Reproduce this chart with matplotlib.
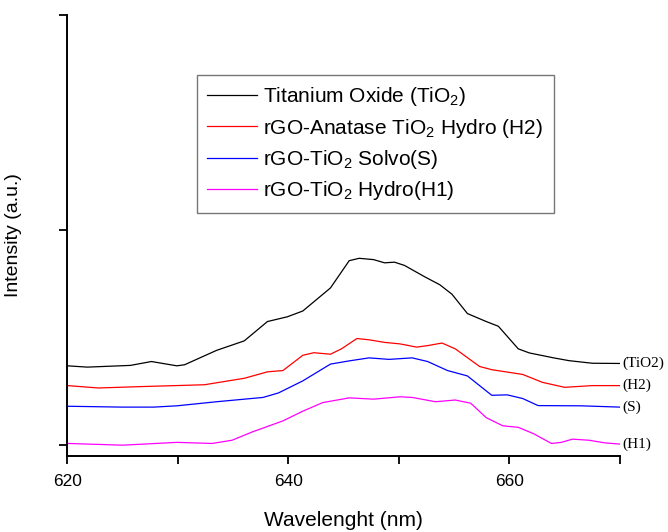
import numpy as np
import matplotlib
matplotlib.use('Agg')
import matplotlib.pyplot as plt

plt.rcParams['font.family'] = ['Liberation Sans', 'DejaVu Sans']
plt.rcParams['mathtext.default'] = 'regular'

# wavelength (nm) / intensity (a.u., stacked)
wl_tio2 = [620, 621.8, 625.7, 627.6, 629.9, 630.6, 633.5, 636, 638.1, 639.9, 641.3, 643.8,
           645.5, 646.4, 647.7, 648.7, 649.6, 650.5, 652.3, 653.7, 654.8, 656.2, 657.9,
           659, 660.8, 661.8, 664, 665.4, 667.5, 670]
int_tio2 = [0.368, 0.362, 0.370, 0.388, 0.368, 0.373, 0.440, 0.484, 0.574, 0.596, 0.623, 0.730,
            0.857, 0.868, 0.862, 0.847, 0.850, 0.835, 0.783, 0.745, 0.701, 0.611, 0.574,
            0.552, 0.447, 0.428, 0.405, 0.392, 0.380, 0.379]

wl_h2 = [620, 622.8, 626.4, 632.4, 636, 638.1, 639.5, 641.3, 642.3, 643.8, 644.8, 646.2,
         647.3, 648.7, 650.1, 651.6, 652.6, 653.9, 655.1, 657.3, 658.4, 661.2, 663, 665,
         667.5, 670]
int_h2 = [0.276, 0.265, 0.271, 0.280, 0.310, 0.340, 0.346, 0.417, 0.429, 0.422, 0.447, 0.495,
          0.489, 0.477, 0.470, 0.455, 0.462, 0.474, 0.447, 0.365, 0.350, 0.328, 0.291, 0.268,
          0.276, 0.276]

wl_s = [620, 625, 627.8, 629.9, 633.5, 637.7, 639.1, 641.3, 643.8, 645.5, 647.3, 649.1,
        651.2, 652.6, 654.4, 656.2, 657.3, 658.4, 659.8, 661.2, 662.6, 666.5, 670]
int_s = [0.180, 0.176, 0.176, 0.182, 0.201, 0.221, 0.242, 0.298, 0.376, 0.391, 0.405, 0.398,
         0.405, 0.388, 0.346, 0.321, 0.276, 0.231, 0.233, 0.216, 0.183, 0.182, 0.176]

wl_h1 = [620, 625, 629.9, 633.1, 634.9, 636.7, 639.5, 641.3, 643.1, 645.5, 647.7, 650.1,
         651.2, 653.3, 655.1, 656.5, 657.9, 659.4, 660.8, 662.2, 663.8, 664.7, 665.7,
         667.2, 668.6, 670]
int_h1 = [0.007, -0.001, 0.012, 0.007, 0.022, 0.060, 0.112, 0.157, 0.197, 0.219, 0.213, 0.224,
          0.221, 0.201, 0.209, 0.194, 0.127, 0.089, 0.082, 0.052, 0.007, 0.012, 0.027,
          0.022, 0.010, 0.004]

labels = ['Titanium Oxide (TiO$_2$)', 'rGO-Anatase TiO$_2$ Hydro (H2)',
          'rGO-TiO$_2$ Solvo(S)', 'rGO-TiO$_2$ Hydro(H1)']
tags = ['(TiO2)', '(H2)', '(S)', '(H1)']
colors = ['black', 'red', 'blue', 'magenta']

fig = plt.figure(figsize=(6.68, 5.32), dpi=100)
ax = fig.add_axes([0.101, 0.143, 0.827, 0.829])

series = [(wl_tio2, int_tio2), (wl_h2, int_h2), (wl_s, int_s), (wl_h1, int_h1)]
for (x, y), lab, c, t in zip(series, labels, colors, tags):
    ax.plot(x, y, color=c, lw=0.9, label=lab)
    ax.text(x[-1] + 0.2, y[-1], t, family='Liberation Serif', fontsize=11,
            va='center', ha='left')

ax.set_xlim(620, 670)
ax.set_ylim(-0.051, 2.0)
ax.set_xticks([620, 640, 660])
ax.set_xticks([630, 650, 670], minor=True)
ax.set_yticks([0, 1, 2])
ax.set_yticklabels([])
ax.tick_params(axis='both', which='both', direction='out', length=6, width=1.3,
               labelsize=12.5)
ax.tick_params(axis='x', pad=7)
for s in ['top', 'right']:
    ax.spines[s].set_visible(False)
for s in ['left', 'bottom']:
    ax.spines[s].set_linewidth(1.4)

ax.set_xlabel('Wavelenght (nm)', fontsize=15, labelpad=16)
ax.set_ylabel('Intensity (a.u.)', fontsize=14)
ax.yaxis.set_label_coords(-0.083, 0.5)

leg = ax.legend(loc='upper left', bbox_to_anchor=(0.234, 0.864), borderaxespad=0,
                fontsize=15, fancybox=False, frameon=True, handlelength=2.4,
                handletextpad=0.3, labelspacing=0.4, borderpad=0.5)
leg.get_frame().set_edgecolor('#555555')
leg.get_frame().set_linewidth(1.0)

fig.savefig('out.png', dpi=100)
